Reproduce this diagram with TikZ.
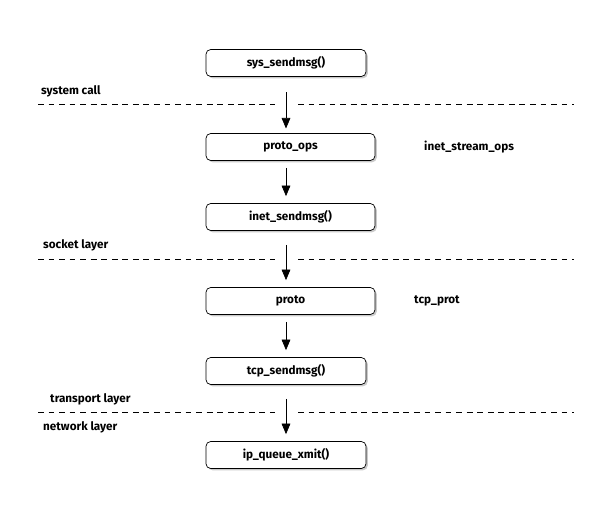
\documentclass[tikz,border=0pt]{standalone}
\usepackage{fontspec}
\setmainfont{Fira Sans}
\usetikzlibrary{arrows.meta, shadows}
\tikzstyle{arrow} = [semithick,-{Triangle[length=9pt,width=7.5pt]}]
\tikzstyle{func} = [rectangle, rounded corners=4pt, draw=black, fill=white, semithick, minimum height=0.81cm, text centered, font=\bfseries, drop shadow={shadow xshift=1.5pt, shadow yshift=-1.5pt, fill=black!35, opacity=0.6}]
\tikzstyle{layer} = [semithick, dash pattern=on 5pt off 4pt]
\tikzstyle{lbl} = [anchor=west, inner sep=0pt, font=\bfseries]

\begin{document}
\begin{tikzpicture}[x=0.03cm, y=-0.03cm, font=\fontsize{10.5}{12}\selectfont]
\useasboundingbox (0,0) rectangle (590,504);
% Placement of nodes
\node (sysSend) [func, minimum width=4.8cm] at (286,63) {sys\_sendmsg()};
\node (protoOps) [func, minimum width=5.07cm] at (290.5,147) {proto\_ops};
\node (inetSend) [func, minimum width=5.07cm] at (290.5,217) {inet\_sendmsg()};
\node (proto) [func, minimum width=5.07cm] at (290.5,301) {proto};
\node (tcpSend) [func, minimum width=4.8cm] at (286,371) {tcp\_sendmsg()};
\node (ipXmit) [func, minimum width=4.8cm] at (286,455) {ip\_queue\_xmit()};

% side labels
\node (inetOps) [lbl] at (424,147) {inet\_stream\_ops};
\node (tcpProt) [lbl] at (414,301) {tcp\_prot};

% layer borders
\draw [layer] (38,104) -- (275,104) (298,104) -- (574,104);
\draw [layer] (38,259) -- (275,259) (298,259) -- (574,259);
\draw [layer] (38,412) -- (275,412) (298,412) -- (574,412);
\node (sysCall) [lbl] at (41,91) {system call};
\node (sockLayer) [lbl] at (43,245) {socket layer};
\node (transLayer) [lbl] at (50,399) {transport layer};
\node (netLayer) [lbl] at (43,427) {network layer};

% Placement of edges
\draw [arrow, shorten <=13pt, shorten >=4pt] (sysSend.south -| 286,0) -- (protoOps.north -| 286,0);
\draw [arrow, shorten <=6pt, shorten >=6pt] (protoOps.south -| 286,0) -- (inetSend.north -| 286,0);
\draw [arrow, shorten <=12pt, shorten >=6pt] (inetSend.south -| 286,0) -- (proto.north -| 286,0);
\draw [arrow, shorten <=6pt, shorten >=6pt] (proto.south -| 286,0) -- (tcpSend.north -| 286,0);
\draw [arrow, shorten <=12pt, shorten >=6pt] (tcpSend.south) -- (ipXmit.north);
\end{tikzpicture}
\end{document}
